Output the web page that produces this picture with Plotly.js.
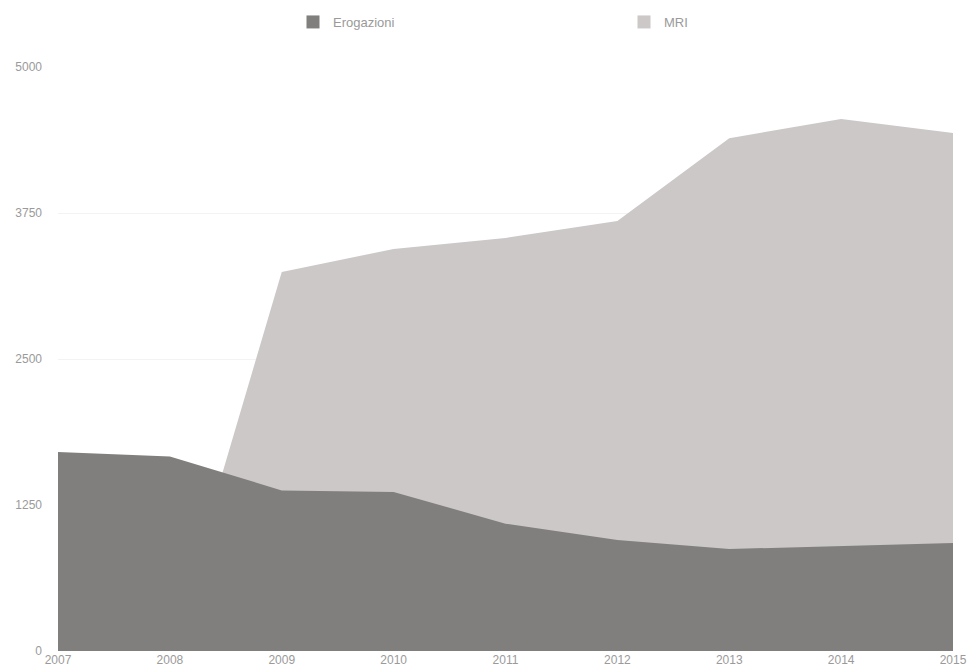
<!DOCTYPE html>
<html>
<head>
<meta charset="utf-8">
<script src="https://cdn.plot.ly/plotly-3.0.1.min.js"></script>
<style>html,body{margin:0;padding:0;background:#fff;}#chart{width:969px;height:672px;}</style>
</head>
<body>
<div id="chart"></div>
<script>
var years = [2007, 2008, 2009, 2010, 2011, 2012, 2013, 2014, 2015];
var erogazioni = [1704, 1665, 1375, 1362, 1090, 950, 873, 899, 925];
var mri = [0, 0, 3245, 3442, 3536, 3682, 4390, 4555, 4435];
var yTicks = [0, 1250, 2500, 3750, 5000];
var darkColor = '#807f7d';
var lightColor = '#cbc8c7';

var traces = [
  {x: years, y: mri, name: 'MRI', type: 'scatter', mode: 'lines', fill: 'tozeroy', showlegend: false,
   fillcolor: lightColor, line: {width: 0, color: lightColor}},
  {x: years, y: erogazioni, name: 'Erogazioni', type: 'scatter', mode: 'lines', fill: 'tozeroy', showlegend: false,
   fillcolor: darkColor, line: {width: 0, color: darkColor}},
  {x: [null], y: [null], name: 'Erogazioni', type: 'scatter', mode: 'markers', showlegend: true,
   marker: {symbol: 'square', size: 13, color: darkColor}},
  {x: [null], y: [null], name: 'MRI', type: 'scatter', mode: 'markers', showlegend: true,
   marker: {symbol: 'square', size: 13, color: lightColor}}
];

var layout = {
  width: 969, height: 672,
  margin: {l: 58, r: 16, t: 67, b: 21},
  paper_bgcolor: '#ffffff', plot_bgcolor: '#ffffff',
  font: {family: 'Liberation Sans, Arial, sans-serif', size: 12, color: '#9a9a9a'},
  showlegend: true,
  legend: {orientation: 'h', xref: 'container', yref: 'container',
           x: 293 / 969, xanchor: 'left', y: 1 - 22 / 672, yanchor: 'middle',
           entrywidth: 286, entrywidthmode: 'pixels', itemwidth: 30,
           font: {size: 13, color: '#9a9a9a'}},
  xaxis: {range: [2007, 2015], tickvals: years, ticktext: years.map(String),
          showgrid: false, zeroline: false, showline: false, ticks: '',
          tickfont: {size: 12, color: '#9a9a9a'}, fixedrange: true},
  yaxis: {range: [0, 5000], tickvals: yTicks, ticktext: yTicks.map(String),
          showgrid: true, gridcolor: '#f3f3f3', zeroline: false, showline: false, ticks: '',
          ticklabelstandoff: 15, tickfont: {size: 12, color: '#9a9a9a'}, fixedrange: true}
};

Plotly.newPlot('chart', traces, layout, {displayModeBar: false, staticPlot: true});
</script>
</body>
</html>
